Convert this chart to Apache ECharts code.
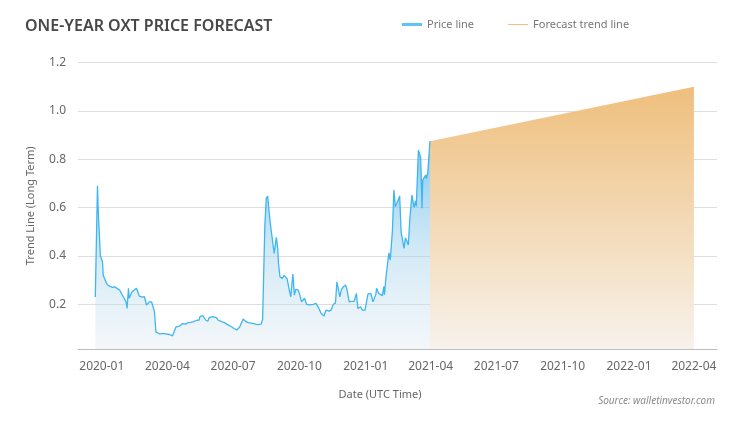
<!DOCTYPE html>
<html>
<head>
<meta charset="utf-8">
<script src="https://cdn.jsdelivr.net/npm/echarts@6/dist/echarts.min.js"></script>
<style>
  html, body { margin: 0; padding: 0; background: #fff; }
  #chart { width: 750px; height: 421px; }
</style>
</head>
<body>
<div id="chart"></div>
<script>
// daily-ish OXT price
const priceDates = [
  "2019-12-23", "2019-12-26", "2019-12-27", "2019-12-29", "2019-12-30",
  "2020-01-02", "2020-01-03", "2020-01-05", "2020-01-07", "2020-01-09",
  "2020-01-12", "2020-01-14", "2020-01-16", "2020-01-19", "2020-01-21",
  "2020-01-26", "2020-01-29", "2020-02-01", "2020-02-04", "2020-02-05",
  "2020-02-07", "2020-02-08", "2020-02-12", "2020-02-14", "2020-02-18",
  "2020-02-20", "2020-02-22", "2020-02-26", "2020-02-29", "2020-03-02",
  "2020-03-03", "2020-03-05", "2020-03-07", "2020-03-10", "2020-03-12",
  "2020-03-14", "2020-03-16", "2020-03-21", "2020-03-25", "2020-03-29",
  "2020-04-04", "2020-04-08", "2020-04-10", "2020-04-13", "2020-04-18",
  "2020-04-22", "2020-04-26", "2020-04-29", "2020-05-03", "2020-05-06",
  "2020-05-11", "2020-05-15", "2020-05-16", "2020-05-20", "2020-05-24",
  "2020-05-27", "2020-05-29", "2020-06-03", "2020-06-08", "2020-06-10",
  "2020-06-15", "2020-06-17", "2020-06-19", "2020-06-24", "2020-06-29",
  "2020-07-02", "2020-07-06", "2020-07-10", "2020-07-15", "2020-07-17",
  "2020-07-19", "2020-07-22", "2020-07-24", "2020-07-28", "2020-08-01",
  "2020-08-04", "2020-08-09", "2020-08-11", "2020-08-12", "2020-08-14",
  "2020-08-16", "2020-08-18", "2020-08-21", "2020-08-23", "2020-08-25",
  "2020-08-27", "2020-08-30", "2020-09-01", "2020-09-02", "2020-09-04",
  "2020-09-07", "2020-09-10", "2020-09-14", "2020-09-16", "2020-09-19",
  "2020-09-22", "2020-09-24", "2020-09-26", "2020-09-29", "2020-10-01",
  "2020-10-04", "2020-10-06", "2020-10-08", "2020-10-11", "2020-10-15",
  "2020-10-20", "2020-10-24", "2020-10-28", "2020-10-31", "2020-11-04",
  "2020-11-07", "2020-11-11", "2020-11-14", "2020-11-17", "2020-11-20",
  "2020-11-22", "2020-11-26", "2020-11-28", "2020-12-01", "2020-12-04",
  "2020-12-06", "2020-12-09", "2020-12-12", "2020-12-16", "2020-12-19",
  "2020-12-21", "2020-12-25", "2020-12-27", "2020-12-31", "2021-01-02",
  "2021-01-04", "2021-01-06", "2021-01-08", "2021-01-11", "2021-01-15",
  "2021-01-16", "2021-01-19", "2021-01-21", "2021-01-24", "2021-01-26",
  "2021-01-27", "2021-01-29", "2021-01-31", "2021-02-02", "2021-02-04",
  "2021-02-07", "2021-02-09", "2021-02-11", "2021-02-13", "2021-02-15",
  "2021-02-17", "2021-02-19", "2021-02-21", "2021-02-23", "2021-02-25",
  "2021-02-27", "2021-03-01", "2021-03-03", "2021-03-06", "2021-03-09",
  "2021-03-11", "2021-03-12", "2021-03-15", "2021-03-18", "2021-03-19",
  "2021-03-20", "2021-03-21", "2021-03-22", "2021-03-25", "2021-03-26",
  "2021-03-28", "2021-03-31"
];
const priceValues = [
  0.23, 0.69, 0.59, 0.59, 0.40,
  0.375, 0.32, 0.315, 0.29, 0.28,
  0.275, 0.278, 0.27, 0.272, 0.265,
  0.258, 0.24, 0.225, 0.205, 0.183,
  0.266, 0.225, 0.252, 0.245, 0.266,
  0.273, 0.234, 0.23, 0.232, 0.225,
  0.197, 0.195, 0.21, 0.21, 0.205,
  0.17, 0.086, 0.077, 0.08, 0.078,
  0.075, 0.069, 0.068, 0.107, 0.11,
  0.12, 0.118, 0.123, 0.125, 0.127,
  0.133, 0.135, 0.149, 0.153, 0.135,
  0.13, 0.145, 0.149, 0.145, 0.135,
  0.128, 0.121, 0.124, 0.115, 0.107,
  0.1, 0.094, 0.105, 0.139, 0.135,
  0.128, 0.124, 0.125, 0.121, 0.118,
  0.116, 0.118, 0.138, 0.14, 0.52,
  0.638, 0.648, 0.55, 0.503, 0.495,
  0.41, 0.477, 0.43, 0.37, 0.314,
  0.307, 0.32, 0.305, 0.273, 0.231,
  0.325, 0.238, 0.262, 0.26, 0.245,
  0.21, 0.205, 0.225, 0.2, 0.198,
  0.2, 0.204, 0.183, 0.163, 0.151,
  0.176, 0.172, 0.176, 0.2, 0.205,
  0.293, 0.231, 0.259, 0.273, 0.28,
  0.26, 0.21, 0.212, 0.212, 0.245,
  0.183, 0.19, 0.176, 0.176, 0.178,
  0.242, 0.235, 0.245, 0.21, 0.242,
  0.266, 0.245, 0.25, 0.235, 0.273,
  0.24, 0.311, 0.313, 0.413, 0.383,
  0.507, 0.673, 0.604, 0.61, 0.631,
  0.648, 0.5, 0.5, 0.431, 0.475,
  0.47, 0.445, 0.549, 0.652, 0.601,
  0.628, 0.605, 0.838, 0.81, 0.72,
  0.597, 0.714, 0.72, 0.735, 0.72,
  0.745, 0.875
];
const forecastDates = ["2021-03-31", "2022-04-01"];
const forecastValues = [0.875, 1.10];
const quarterLabels = ["2020-01", "2020-04", "2020-07", "2020-10", "2021-01",
  "2021-04", "2021-07", "2021-10", "2022-01", "2022-04"];

// dates -> UTC timestamps, the x axis is a plain value axis over time
const ts = s => Date.parse(s + "T00:00:00Z");
const pad = n => String(n).padStart(2, "0");

const chart = echarts.init(document.getElementById("chart"));
const font = "Noto Sans";

const option = {
  backgroundColor: "#fff",
  textStyle: { fontFamily: font },
  animation: false,
  title: [
    {
      text: "ONE-YEAR OXT PRICE FORECAST",
      left: 20, top: 13,
      textStyle: { fontFamily: font, fontSize: 16, fontWeight: 600, color: "#474747" }
    },
    {
      text: "Date (UTC Time)",
      left: 375, top: 384, textAlign: "center",
      textStyle: { fontFamily: font, fontSize: 11, fontWeight: "normal", color: "#666" }
    },
    {
      text: "Source: walletinvestor.com",
      right: 30, top: 391,
      textStyle: { fontFamily: font, fontSize: 10, fontStyle: "italic", fontWeight: "normal", color: "#8a8a8a" }
    }
  ],
  legend: {
    left: 397, top: 14,
    itemWidth: 20, itemHeight: 3, itemGap: 34,
    icon: "rect",
    textStyle: { fontFamily: font, fontSize: 11, color: "#777" },
    data: [
      { name: "Price line", itemStyle: { color: "#5ec3f5" } },
      { name: "Forecast trend line", icon: "path://M0,1 L20,1 L20,2 L0,2 Z", itemStyle: { color: "#f2bf7c" } }
    ]
  },
  grid: { left: 78, right: 33, top: 62.6, bottom: 72, containLabel: false, outerBoundsMode: "none" },
  xAxis: {
    type: "value",
    min: ts("2019-11-29"),
    max: ts("2022-05-03"),
    axisLine: { show: true, onZero: false, lineStyle: { color: "#bdbdbd", width: 1 } },
    axisTick: { show: false },
    splitLine: { show: false },
    axisLabel: {
      customValues: quarterLabels.map(q => ts(q + "-01")),
      formatter: v => { const d = new Date(v); return d.getUTCFullYear() + "-" + pad(d.getUTCMonth() + 1); },
      fontFamily: font, fontSize: 12, color: "#666", margin: 12
    }
  },
  yAxis: {
    type: "value",
    min: 0.015,
    max: 1.2,
    splitNumber: 6,
    name: "Trend Line (Long Term)",
    nameLocation: "middle",
    nameGap: 42,
    nameTextStyle: { fontFamily: font, fontSize: 11, color: "#666" },
    axisLine: { show: false },
    axisTick: { show: false },
    splitLine: { lineStyle: { color: "#dedede", width: 1 } },
    axisLabel: {
      showMinLabel: false,
      formatter: v => v.toFixed(1),
      fontFamily: font, fontSize: 12, color: "#666", margin: 12
    }
  },
  series: [
    {
      name: "Forecast trend line",
      type: "line",
      symbol: "none",
      lineStyle: { width: 0, color: "#f2bf7c" },
      itemStyle: { color: "#f2bf7c" },
      areaStyle: {
        opacity: 1,
        origin: "start",
        color: new echarts.graphic.LinearGradient(0, 0, 0, 1, [
          { offset: 0, color: "rgb(239,191,125)" },
          { offset: 1, color: "rgb(247,242,236)" }
        ])
      },
      data: forecastDates.map((d, i) => [ts(d), forecastValues[i]])
    },
    {
      name: "Price line",
      type: "line",
      symbol: "none",
      lineStyle: { width: 1.3, color: "#3db6f2" },
      itemStyle: { color: "#3db6f2" },
      areaStyle: {
        opacity: 1,
        origin: "start",
        color: new echarts.graphic.LinearGradient(0, 0, 0, 1, [
          { offset: 0, color: "rgba(82,182,236,0.75)" },
          { offset: 0.5, color: "rgba(150,205,235,0.45)" },
          { offset: 1, color: "rgba(215,228,238,0.3)" }
        ])
      },
      data: priceDates.map((d, i) => [ts(d), priceValues[i]])
    }
  ]
};

chart.setOption(option);
</script>
</body>
</html>
